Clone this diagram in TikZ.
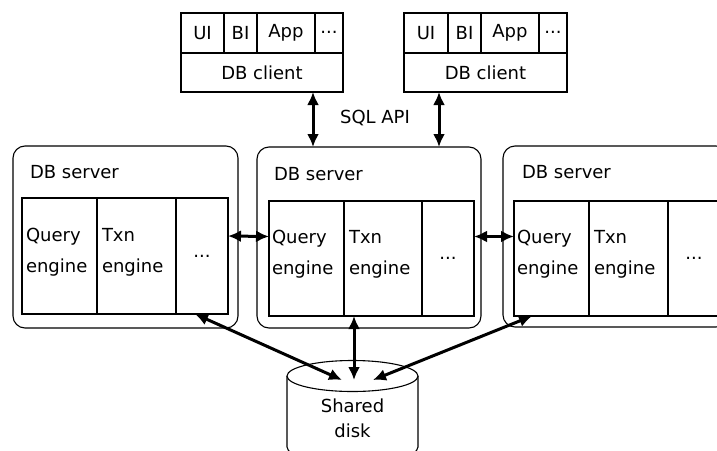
\documentclass[tikz,border=0pt]{standalone}
\usepackage{fontspec}
\setmainfont{DejaVu Sans}
\usetikzlibrary{arrows.meta,calc}
\begin{document}
\begin{tikzpicture}[x=1pt,y=-1pt,
  every node/.style={font=\fontsize{18}{31}\selectfont, inner sep=0pt, outer sep=0pt},
  cell/.style={draw, line width=1.1pt, anchor=north west, rectangle},
  srv/.style={draw, line width=1.1pt, rounded corners=12pt, anchor=north west, rectangle},
  lbl/.style={align=left, anchor=west},
  conn/.style={line width=3pt, {Latex[length=13pt,width=12pt]}-{Latex[length=13pt,width=12pt]}}]
\useasboundingbox (0,0) rectangle (717,450);
\clip (0,0) rectangle (717,450);
\fill[white] (0,0) rectangle (717,450);

% clients
\node[cell, minimum width=43pt, minimum height=40pt] (aui) at (181,13) {UI};
\node[cell, minimum width=33pt, minimum height=40pt] (abi) at (224,13) {BI};
\node[cell, minimum width=58pt, minimum height=40pt] (aapp) at (257,13) {App};
\node[cell, minimum width=28pt, minimum height=40pt] (adot) at (315,13) {\raisebox{2pt}{...}};
\node[cell, minimum width=162pt, minimum height=39pt] (acl) at (181,53) {DB client};

\node[cell, minimum width=44pt, minimum height=40pt] (bui) at (404,13) {UI};
\node[cell, minimum width=33pt, minimum height=40pt] (bbi) at (448,13) {BI};
\node[cell, minimum width=58pt, minimum height=40pt] (bapp) at (481,13) {App};
\node[cell, minimum width=28pt, minimum height=40pt] (bdot) at (539,13) {\raisebox{2pt}{...}};
\node[cell, minimum width=163pt, minimum height=39pt] (bcl) at (404,53) {DB client};

\node (sql) at (375,118) {SQL API};

% servers
\node[srv, minimum width=225pt, minimum height=182pt] (sL) at (13,146) {};
\node[srv, minimum width=224pt, minimum height=181pt] (sM) at (257,147) {};
\node[srv, minimum width=225pt, minimum height=181pt] (sR) at (503,146) {};

\node[lbl] (tL) at (30,172) {DB server};
\node[lbl] (tM) at (274,174) {DB server};
\node[lbl] (tR) at (522,172) {DB server};

% inner cells
\node[cell, minimum width=75pt, minimum height=116pt] (L1) at (22,198) {};
\node[cell, minimum width=79pt, minimum height=116pt] (L2) at (97,198) {};
\node[cell, minimum width=52pt, minimum height=116pt] (L3) at (176,198) {...};
\node[cell, minimum width=75pt, minimum height=115pt] (M1) at (269,201) {};
\node[cell, minimum width=78pt, minimum height=115pt] (M2) at (344,201) {};
\node[cell, minimum width=52pt, minimum height=115pt] (M3) at (422,201) {...};
\node[cell, minimum width=75pt, minimum height=115pt] (R1) at (514,201) {};
\node[cell, minimum width=79pt, minimum height=115pt] (R2) at (589,201) {};
\node[cell, minimum width=52pt, minimum height=115pt] (R3) at (668,201) {...};

\node[lbl] (qL) at ($(L1.west)+(4,-4)$) {Query\\engine};
\node[lbl] (xL) at ($(L2.west)+(5,-4)$) {Txn\\engine};
\node[lbl] (qM) at ($(M1.west)+(3,-4)$) {Query\\engine};
\node[lbl] (xM) at ($(M2.west)+(5,-4)$) {Txn\\engine};
\node[lbl] (qR) at ($(R1.west)+(3,-4)$) {Query\\engine};
\node[lbl] (xR) at ($(R2.west)+(5,-4)$) {Txn\\engine};

% disk
\draw[line width=1.1pt, fill=white] (287,376) -- (287,447) .. controls (287,467) and (418,467) .. (418,447) -- (418,376);
\draw[line width=1.1pt, fill=white] (352.5,376) ellipse [x radius=65.5, y radius=15.5];
\node[align=center, font=\fontsize{18}{25}\selectfont] (disk) at (352.5,418) {Shared\\disk};
\coordinate (dA) at (342,380);
\coordinate (dB) at (354,380);
\coordinate (dC) at (373,380);

% connectors
\draw[conn] ($(acl.south east)+(-30,0)$) -- ($(sM.north west)+(56,0)$);
\draw[conn] ($(bcl.south west)+(35,0)$) -- ($(sM.north west)+(182,0)$);
\draw[conn] ($(L3.east)+(0,-20)$) -- ($(M1.west)+(0,-22)$);
\draw[conn] ($(M3.east)+(0,-22)$) -- ($(R1.west)+(0,-22)$);
\draw[conn] ($(L3.south west)+(19,0)$) -- (dA);
\draw[conn] ($(M2.south west)+(10,0)$) -- (dB);
\draw[conn] ($(R1.south west)+(18,0)$) -- (dC);
\end{tikzpicture}
\end{document}
